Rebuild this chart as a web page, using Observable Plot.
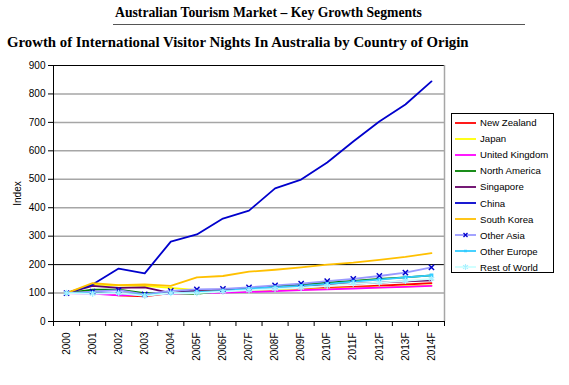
<!DOCTYPE html>
<html><head><meta charset="utf-8">
<script src="https://cdn.jsdelivr.net/npm/d3@7"></script>
<script src="https://cdn.jsdelivr.net/npm/@observablehq/plot@0.6"></script>
<style>
body{margin:0;background:#fff;}
#wrap{position:relative;width:569px;height:385px;overflow:hidden;background:#fff;}
#wrap svg.plot{position:absolute;left:0;top:0;}
.t1{position:absolute;left:115px;top:6px;font:bold 13.7px/14px "Liberation Serif","Times New Roman",serif;color:#000;white-space:nowrap;}
.rule{position:absolute;left:113px;top:24px;width:412px;height:0;border-top:1px solid #555;}
.t2{position:absolute;left:7px;top:35px;font:bold 14.8px/15px "Liberation Serif","Times New Roman",serif;color:#000;white-space:nowrap;}
.legend{position:absolute;left:451px;top:113px;width:103px;height:160px;border:1px solid #000;background:#fff;box-sizing:border-box;}
.item{position:absolute;left:3px;height:14px;display:flex;align-items:center;font:9.6px "Liberation Sans",Arial,sans-serif;color:#000;white-space:nowrap;}
.item svg{margin-right:4px;}
</style>
</head><body>
<div id="wrap">
<div class="t1">Australian Tourism Market – Key Growth Segments</div>
<div class="rule"></div>
<div class="t2">Growth of International Visitor Nights In Australia by Country of Origin</div>
</div>
<script>
const years = ["2000","2001","2002","2003","2004","2005F","2006F","2007F","2008F","2009F","2010F","2011F","2012F","2013F","2014F"];
const yTicks = [0,100,200,300,400,500,600,700,800,900];
const seriesNames = ["New Zealand","Japan","United Kingdom","North America","Singapore","China","South Korea","Other Asia","Other Europe","Rest of World"];
const seriesColors = ["#ff0000","#ffff00","#ff00ff","#008000","#660066","#0000cc","#ffc000","#9999ff","#33ccff","#ccffff"];

const newZealand   = [100,105,92,88,100,105,108,110,113,115,118,122,126,130,135];
const japan        = [100,130,127,125,118,110,105,108,110,112,115,118,120,123,127];
const unitedKingdom= [100,98,92,95,98,100,102,104,107,110,113,116,119,122,125];
const northAmerica = [100,112,112,100,100,97,108,115,123,130,137,143,150,155,162];
const singapore    = [100,125,118,120,100,110,112,115,120,125,130,133,137,141,145];
const china        = [100,130,186,169,281,306,362,390,468,499,559,633,703,763,844];
const southKorea   = [100,135,128,130,125,155,160,175,182,190,200,207,217,227,240];
const otherAsia    = [100,105,110,95,108,113,115,120,127,133,142,150,160,172,190];
const otherEurope  = [100,100,100,93,100,103,108,115,120,125,132,140,147,155,162];
const restOfWorld  = [100,97,100,90,100,100,105,110,115,118,125,133,137,143,150];

const seriesValues = [newZealand,japan,unitedKingdom,northAmerica,singapore,china,southKorea,otherAsia,otherEurope,restOfWorld];
const rows = seriesNames.flatMap((name,k)=>seriesValues[k].map((v,i)=>({series:name,i,v})));
const idx = d3.range(years.length);
const bounds = d3.range(years.length+1).map(i=>i-0.5);

const plot = Plot.plot({
  width:569, height:385,
  marginTop:65, marginLeft:53, marginRight:125, marginBottom:64,
  style:{fontFamily:"'Liberation Sans', Arial, sans-serif", fontSize:"10px", background:"transparent", color:"#000"},
  x:{domain:[-0.5, years.length-0.5], axis:null},
  y:{domain:[0,900], axis:null},
  color:{domain:seriesNames, range:seriesColors},
  marks:[
    Plot.ruleY(yTicks.filter(v=>v>0 && v<900 && v!==200), {stroke:"#a6a6a6", strokeWidth:1.5}),
    Plot.ruleY([200], {stroke:"#000", strokeWidth:1}),
    Plot.ruleY([900], {stroke:"#000", strokeWidth:1}),
    Plot.ruleX([years.length-0.5], {stroke:"#a6a6a6", strokeWidth:1.5}),
    Plot.line(rows, {x:"i", y:"v", z:"series", stroke:"series", strokeWidth:1.8}),
    Plot.dot(rows.filter(d=>d.series==="Other Asia"), {x:"i", y:"v", symbol:"times", r:2.5, stroke:"#0000cc", strokeWidth:1.4}),
    Plot.dot(rows.filter(d=>d.series==="Other Europe"), {x:"i", y:"v", symbol:"square", r:1.3, fill:"#33ccff", stroke:"#33ccff"}),
    Plot.dot(rows.filter(d=>d.series==="Rest of World"), {x:"i", y:"v", symbol:"asterisk", r:3, stroke:"#aaf0ff", strokeWidth:1.3}),
    Plot.ruleX([-0.5], {stroke:"#000"}),
    Plot.ruleY([0], {stroke:"#000"}),
    Plot.axisY({ticks:yTicks, tickSize:5, tickPadding:3, label:"Index", labelAnchor:"center", labelOffset:40, labelArrow:"none"}),
    Plot.axisX({ticks:bounds, tickSize:5, tickFormat:()=>"", label:null}),
    Plot.axisX({ticks:idx, tickSize:0, tickPadding:11, tickRotate:-90, tickFormat:i=>years[i], label:null})
  ]
});
plot.classList.add("plot");
const wrap = document.getElementById("wrap");
wrap.prepend(plot);

// legend
const legend = document.createElement("div");
legend.className = "legend";
seriesNames.forEach((name,k)=>{
  const it = document.createElement("div");
  it.className = "item";
  it.style.top = (1.5 + k*16.1) + "px";
  const color = seriesColors[k];
  let marker = "";
  if (name==="Other Asia") marker = `<path d="M8.5,3L12.5,7M12.5,3L8.5,7" stroke="#0000cc" stroke-width="1.3"/>`;
  if (name==="Other Europe") marker = `<rect x="9" y="3.8" width="3" height="2.4" fill="#33ccff"/>`;
  if (name==="Rest of World") marker = `<path d="M10.5,2V8M8,3.2L13,6.8M13,3.2L8,6.8" stroke="#aaf0ff" stroke-width="1.1"/>`;
  it.innerHTML = `<svg width="21" height="10"><line x1="0" x2="21" y1="5" y2="5" stroke="${color}" stroke-width="1.8"/>${marker}</svg><span>${name}</span>`;
  legend.appendChild(it);
});
wrap.appendChild(legend);
</script>
</body></html>
